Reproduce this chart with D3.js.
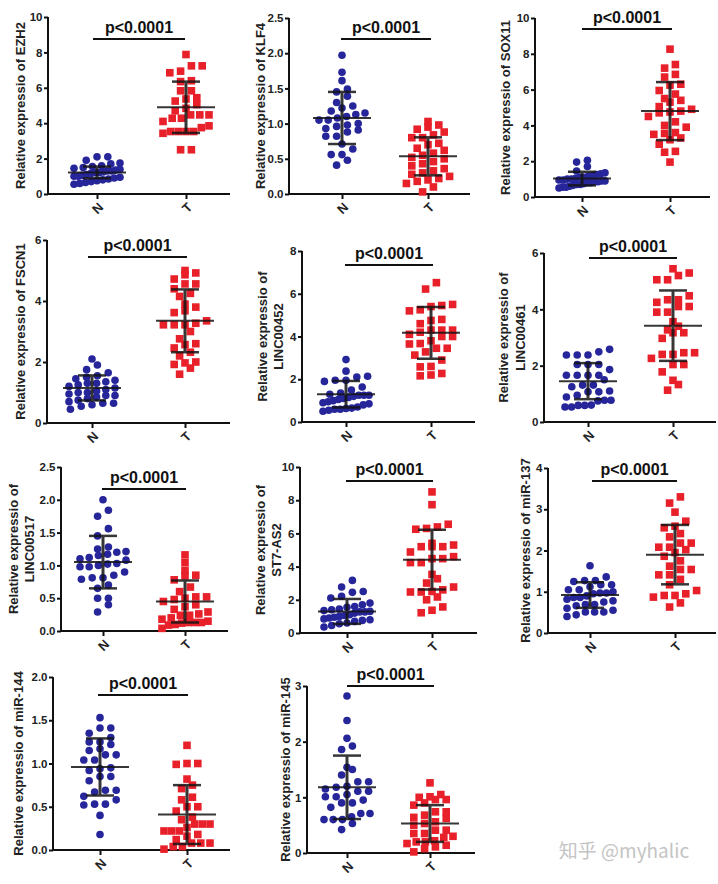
<!DOCTYPE html>
<html>
<head>
<meta charset="utf-8">
<script src="https://cdn.jsdelivr.net/npm/d3@7"></script>
<style>
body { margin: 0; background: #fff; }
svg { display: block; }
</style>
</head>
<body>
<div id="chart"></div>
<script>
const width = 718
const height = 884

// ---- data ----
const genes = ["EZH2", "KLF4", "SOX11", "FSCN1", "LINC00452", "LINC00461",
               "LINC00517", "ST7-AS2", "miR-137", "miR-144", "miR-145"]
const groups = ["N", "T"]
const yMax = [10, 2.5, 10, 6, 8, 6, 2.5, 10, 4, 2.0, 3]
const yTicks = [
  [0, 2, 4, 6, 8, 10],
  [0, 0.5, 1.0, 1.5, 2.0, 2.5],
  [0, 2, 4, 6, 8, 10],
  [0, 2, 4, 6],
  [0, 2, 4, 6, 8],
  [0, 2, 4, 6],
  [0, 0.5, 1.0, 1.5, 2.0, 2.5],
  [0, 2, 4, 6, 8, 10],
  [0, 1, 2, 3, 4],
  [0, 0.5, 1.0, 1.5, 2.0],
  [0, 1, 2, 3]
]
const tickDecimals = [0, 1, 0, 0, 0, 0, 1, 0, 0, 1, 0]
const pLabel = "p<0.0001"

const normalVals = [
  [2.1, 2.1, 1.9, 1.75, 1.7, 1.6, 1.55, 1.5, 1.45, 1.4, 1.35, 1.3, 1.3, 1.25, 1.2, 1.2, 1.15, 1.1, 1.05, 1.0, 1.0, 0.95, 0.9, 0.85, 0.8, 0.75, 0.7, 0.65, 0.6, 0.55],
  [1.97, 1.73, 1.61, 1.49, 1.45, 1.39, 1.30, 1.25, 1.22, 1.18, 1.15, 1.13, 1.10, 1.08, 1.05, 1.05, 1.0, 0.98, 0.96, 0.93, 0.91, 0.88, 0.82, 0.82, 0.71, 0.64, 0.56, 0.56, 0.48, 0.41],
  [2.05, 1.95, 1.7, 1.45, 1.35, 1.3, 1.25, 1.2, 1.15, 1.1, 1.1, 1.05, 1.0, 1.0, 0.95, 0.95, 0.9, 0.9, 0.85, 0.85, 0.8, 0.8, 0.75, 0.7, 0.7, 0.65, 0.6, 0.55, 0.55, 0.5],
  [2.1, 1.9, 1.75, 1.65, 1.55, 1.5, 1.45, 1.4, 1.35, 1.3, 1.3, 1.25, 1.2, 1.15, 1.1, 1.05, 1.0, 1.0, 0.95, 0.9, 0.9, 0.85, 0.8, 0.75, 0.7, 0.65, 0.65, 0.6, 0.55, 0.45],
  [2.92, 2.38, 2.14, 2.1, 1.95, 1.95, 1.9, 1.64, 1.5, 1.35, 1.3, 1.25, 1.25, 1.25, 1.2, 1.15, 1.1, 1.05, 1.0, 0.95, 0.9, 0.85, 0.8, 0.7, 0.65, 0.63, 0.6, 0.6, 0.55, 0.5],
  [2.58, 2.49, 2.38, 2.38, 2.38, 2.04, 2.04, 2.04, 1.86, 1.66, 1.66, 1.66, 1.66, 1.5, 1.31, 1.31, 1.25, 1.1, 1.07, 1.07, 0.95, 0.89, 0.77, 0.77, 0.75, 0.6, 0.59, 0.59, 0.53, 0.53],
  [2.0, 1.84, 1.75, 1.56, 1.45, 1.28, 1.25, 1.21, 1.2, 1.17, 1.15, 1.12, 1.1, 1.08, 1.03, 1.02, 1.0, 0.98, 0.98, 0.9, 0.85, 0.81, 0.81, 0.79, 0.7, 0.65, 0.5, 0.5, 0.4, 0.29],
  [3.17, 2.77, 2.5, 2.45, 2.21, 2.11, 1.8, 1.7, 1.6, 1.55, 1.45, 1.4, 1.35, 1.3, 1.27, 1.27, 1.2, 1.1, 1.05, 1.0, 0.95, 0.9, 0.85, 0.8, 0.76, 0.7, 0.6, 0.56, 0.45, 0.36],
  [1.63, 1.36, 1.27, 1.27, 1.25, 1.17, 1.17, 1.12, 1.05, 1.05, 1.0, 0.97, 0.97, 0.95, 0.9, 0.86, 0.86, 0.82, 0.78, 0.75, 0.69, 0.69, 0.66, 0.6, 0.55, 0.51, 0.51, 0.51, 0.44, 0.4],
  [1.53, 1.41, 1.41, 1.35, 1.3, 1.25, 1.25, 1.22, 1.17, 1.15, 1.1, 1.1, 1.04, 1.04, 0.95, 0.94, 0.92, 0.85, 0.85, 0.8, 0.69, 0.69, 0.67, 0.62, 0.58, 0.53, 0.53, 0.52, 0.4, 0.18],
  [2.82, 2.38, 2.06, 1.92, 1.86, 1.54, 1.5, 1.4, 1.28, 1.28, 1.2, 1.18, 1.15, 1.11, 1.11, 1.05, 1.01, 1.01, 0.95, 0.9, 0.9, 0.82, 0.71, 0.71, 0.65, 0.6, 0.6, 0.6, 0.53, 0.42]
]

const tumorVals = [
  [7.88, 7.24, 7.24, 6.94, 6.85, 6.4, 6.35, 5.83, 5.83, 5.44, 5.37, 5.25, 5.05, 4.84, 4.7, 4.47, 4.47, 4.47, 4.28, 4.28, 4.1, 3.85, 3.75, 3.53, 3.53, 3.53, 3.53, 3.43, 2.5, 2.5],
  [1.03, 0.98, 0.95, 0.92, 0.88, 0.84, 0.80, 0.80, 0.72, 0.70, 0.65, 0.62, 0.58, 0.55, 0.52, 0.50, 0.46, 0.43, 0.40, 0.36, 0.33, 0.30, 0.28, 0.25, 0.22, 0.20, 0.18, 0.15, 0.10, 0.03],
  [8.26, 7.4, 7.2, 6.85, 6.7, 6.3, 6.25, 5.95, 5.75, 5.5, 5.4, 5.3, 5.05, 4.9, 4.8, 4.75, 4.7, 4.5, 4.2, 4.0, 3.9, 3.6, 3.55, 3.5, 3.3, 3.2, 2.95, 2.55, 2.5, 1.95],
  [5.0, 4.92, 4.86, 4.72, 4.56, 4.56, 4.4, 4.25, 4.15, 3.9, 3.8, 3.68, 3.62, 3.35, 3.27, 3.22, 3.22, 3.22, 3.0, 2.76, 2.6, 2.57, 2.46, 2.32, 2.2, 2.0, 1.97, 1.92, 1.8, 1.6],
  [6.52, 6.22, 5.5, 5.45, 5.4, 5.25, 5.2, 4.8, 4.75, 4.6, 4.3, 4.3, 4.3, 4.2, 4.1, 4.0, 4.0, 3.67, 3.8, 3.65, 3.45, 3.45, 3.28, 3.13, 2.9, 2.58, 2.6, 2.27, 2.2, 2.16],
  [5.44, 5.29, 5.2, 5.05, 5.05, 4.48, 4.34, 4.34, 4.25, 4.1, 4.1, 3.9, 3.9, 3.56, 3.4, 3.27, 3.17, 3.17, 2.97, 2.46, 2.46, 2.4, 2.4, 2.26, 2.04, 2.04, 1.78, 1.48, 1.33, 1.13],
  [1.16, 1.04, 0.92, 0.85, 0.84, 0.78, 0.67, 0.6, 0.52, 0.52, 0.5, 0.48, 0.45, 0.4, 0.37, 0.33, 0.29, 0.26, 0.24, 0.24, 0.2, 0.18, 0.15, 0.13, 0.13, 0.13, 0.12, 0.1, 0.09, 0.04],
  [8.5, 7.73, 6.55, 6.39, 6.3, 6.25, 5.4, 5.3, 5.2, 5.2, 5.2, 4.88, 4.6, 4.48, 4.48, 4.24, 4.24, 3.53, 3.27, 3.01, 2.77, 2.6, 2.5, 2.47, 2.47, 2.17, 2.0, 1.57, 1.37, 1.22],
  [3.3, 3.15, 2.93, 2.71, 2.59, 2.55, 2.41, 2.33, 2.18, 2.18, 2.08, 2.08, 2.02, 1.95, 1.86, 1.75, 1.62, 1.54, 1.54, 1.41, 1.41, 1.3, 1.17, 1.03, 0.95, 0.91, 0.91, 0.87, 0.73, 0.63],
  [1.21, 1.0, 1.0, 0.99, 0.82, 0.75, 0.71, 0.61, 0.58, 0.5, 0.5, 0.45, 0.38, 0.35, 0.3, 0.3, 0.3, 0.26, 0.22, 0.22, 0.22, 0.18, 0.16, 0.12, 0.08, 0.08, 0.08, 0.04, 0.04, 0.01],
  [1.26, 1.05, 1.01, 1.0, 0.96, 0.96, 0.9, 0.86, 0.74, 0.74, 0.68, 0.64, 0.62, 0.56, 0.53, 0.5, 0.41, 0.41, 0.35, 0.35, 0.3, 0.28, 0.22, 0.2, 0.2, 0.17, 0.14, 0.11, 0.08, 0.02]
]

// mean and SD bars as drawn in the figure
const meanN = [1.22, 1.08, 1.03, 1.15, 1.3, 1.45, 1.05, 1.3, 0.92, 0.96, 1.18]
const sdN   = [0.33, 0.37, 0.38, 0.41, 0.62, 0.64, 0.40, 0.75, 0.31, 0.33, 0.57]
const meanT = [4.9, 0.535, 4.8, 3.35, 4.17, 3.42, 0.45, 4.42, 1.9, 0.41, 0.53]
const sdT   = [1.45, 0.27, 1.62, 1.03, 1.21, 1.25, 0.32, 1.8, 0.72, 0.34, 0.33]

// ---- layout (pixel boxes of each panel) ----
const layout = [
  {x0: 48,  yTop: 17,  yBot: 194, xEnd: 230, nX: 97,  tX: 186, pY: 39,  p1: 93,  p2: 185, lab: [20]},
  {x0: 289, yTop: 18,  yBot: 194, xEnd: 470, nX: 342, tX: 428, pY: 39,  p1: 341, p2: 431, lab: [260]},
  {x0: 535, yTop: 18,  yBot: 197, xEnd: 710, nX: 582, tX: 670, pY: 29,  p1: 582, p2: 672, lab: [505]},
  {x0: 47,  yTop: 240, yBot: 423, xEnd: 230, nX: 92,  tX: 185, pY: 257, p1: 88,  p2: 187, lab: [20]},
  {x0: 302, yTop: 251, yBot: 422, xEnd: 475, nX: 346, tX: 431, pY: 265, p1: 345, p2: 433, lab: [262, 278]},
  {x0: 544, yTop: 253, yBot: 422, xEnd: 716, nX: 588, tX: 673, pY: 258, p1: 589, p2: 677, lab: [503, 520]},
  {x0: 61,  yTop: 467, yBot: 631, xEnd: 228, nX: 103, tX: 185, pY: 489, p1: 102, p2: 186, lab: [13, 29]},
  {x0: 300, yTop: 467, yBot: 633, xEnd: 477, nX: 347, tX: 432, pY: 481, p1: 346, p2: 433, lab: [260, 276]},
  {x0: 548, yTop: 468, yBot: 633, xEnd: 716, nX: 590, tX: 675, pY: 481, p1: 592, p2: 677, lab: [525]},
  {x0: 53,  yTop: 677, yBot: 850, xEnd: 230, nX: 100, tX: 187, pY: 695, p1: 98,  p2: 188, lab: [18]},
  {x0: 307, yTop: 686, yBot: 853, xEnd: 475, nX: 347, tX: 430, pY: 686, p1: 347, p2: 434, lab: [285]}
]

const blue = "#26269a"
const red = "#e8202a"
const font = "'Liberation Sans', Arial, sans-serif"

const svg = d3.select("#chart")
  .append("svg")
  .attr("width", width)
  .attr("height", height)
  .style("font-family", font)

// Prism-like scatter: bin points into rows by pixel height, spread each row sideways
const spread = (vals, y) => {
  const pts = vals.map(v => ({v: v, py: y(v)})).sort((a, b) => b.py - a.py)
  const rows = []
  pts.forEach(d => {
    const last = rows[rows.length - 1]
    if (last && d.py > last[0].py - 7.5) last.push(d)
    else rows.push([d])
  })
  rows.forEach(row => {
    const k = row.length
    const sp = k > 1 ? Math.min(10.8, 46 / (k - 1)) : 0
    row.forEach((d, i) => { d.dx = (i - (k - 1) / 2) * sp })
  })
  return pts
}

genes.forEach((gene, i) => {
  const L = layout[i]
  const g = svg.append("g")

  const y = d3.scaleLinear().domain([0, yMax[i]]).range([L.yBot, L.yTop])
  const x = d3.scalePoint().domain(groups).range([L.nX, L.tX])

  // y axis
  const yAxis = d3.axisLeft(y)
    .tickValues(yTicks[i])
    .tickSize(4)
    .tickPadding(1.5)
    .tickFormat(d3.format("." + tickDecimals[i] + "f"))
  const ya = g.append("g").attr("transform", `translate(${L.x0},0)`).call(yAxis)
  ya.select(".domain").attr("d", `M-0,${L.yTop}V${L.yBot}`)
  ya.selectAll("path, line").attr("stroke", "#111").attr("stroke-width", 2)
  ya.selectAll("text").attr("font-size", 11.5).attr("font-weight", "bold").attr("fill", "#222")

  // x axis
  const xAxis = d3.axisBottom(x).tickSize(5).tickFormat("")
  const xa = g.append("g").attr("transform", `translate(0,${L.yBot})`).call(xAxis)
  xa.select(".domain").attr("d", `M${L.x0 - 1},0H${L.xEnd}`)
  xa.selectAll("path, line").attr("stroke", "#111").attr("stroke-width", 2)

  g.selectAll(".glab")
    .data(groups)
    .enter()
    .append("text")
    .attr("transform", d => `translate(${x(d) + 4},${L.yBot + 11}) rotate(-45)`)
    .attr("text-anchor", "end")
    .attr("dominant-baseline", "central")
    .attr("font-size", 13)
    .attr("font-weight", "bold")
    .attr("fill", "#222")
    .text(d => d)

  // y label
  const cy = (L.yTop + L.yBot) / 2
  const labLines = L.lab.length === 1
    ? ["Relative expressio of " + gene]
    : ["Relative expressio of", gene]
  L.lab.forEach((lx, k) => {
    g.append("text")
      .attr("transform", `translate(${lx},${cy}) rotate(-90)`)
      .attr("text-anchor", "middle")
      .attr("dominant-baseline", "central")
      .attr("font-size", 13)
      .attr("font-weight", "bold")
      .attr("fill", "#222")
      .text(labLines[k])
  })

  // points
  const nPts = spread(normalVals[i], y)
  const tPts = spread(tumorVals[i], y)

  g.selectAll(".ndot")
    .data(nPts)
    .enter()
    .append("circle")
    .attr("cx", d => x("N") + d.dx)
    .attr("cy", d => d.py)
    .attr("r", 3.8)
    .attr("fill", blue)

  g.selectAll(".tdot")
    .data(tPts)
    .enter()
    .append("rect")
    .attr("x", d => x("T") + d.dx - 3.8)
    .attr("y", d => d.py - 3.8)
    .attr("width", 7.6)
    .attr("height", 7.6)
    .attr("fill", red)

  // mean and SD bars
  const stats = [
    {grp: "N", m: meanN[i], s: sdN[i]},
    {grp: "T", m: meanT[i], s: sdT[i]}
  ]
  stats.forEach(st => {
    const cx = x(st.grp)
    const lo = Math.max(0, st.m - st.s)
    const hi = st.m + st.s
    const bar = g.append("g").attr("stroke", "#141414").attr("opacity", 0.85)
    bar.append("line").attr("x1", cx).attr("x2", cx).attr("y1", y(hi)).attr("y2", y(lo)).attr("stroke-width", 3)
    bar.append("line").attr("x1", cx - 14).attr("x2", cx + 14).attr("y1", y(hi)).attr("y2", y(hi)).attr("stroke-width", 2.5)
    bar.append("line").attr("x1", cx - 14).attr("x2", cx + 14).attr("y1", y(lo)).attr("y2", y(lo)).attr("stroke-width", 2.5)
    bar.append("line").attr("x1", cx - 29).attr("x2", cx + 29).attr("y1", y(st.m)).attr("y2", y(st.m)).attr("stroke-width", 2)
  })

  // significance line
  g.append("line")
    .attr("x1", L.p1).attr("x2", L.p2)
    .attr("y1", L.pY).attr("y2", L.pY)
    .attr("stroke", "#111")
    .attr("stroke-width", 2)
  g.append("text")
    .attr("x", (L.p1 + L.p2) / 2)
    .attr("y", L.pY - 6)
    .attr("text-anchor", "middle")
    .attr("font-size", 16)
    .attr("font-weight", "bold")
    .attr("fill", "#111")
    .text(pLabel)
})

// watermark
svg.append("text")
  .attr("x", 624)
  .attr("y", 858)
  .attr("text-anchor", "middle")
  .attr("font-family", "'Noto Sans CJK SC', sans-serif")
  .attr("font-size", 19)
  .attr("fill", "#c4c4c4")
  .text("知乎 @myhalic")
</script>
</body>
</html>
